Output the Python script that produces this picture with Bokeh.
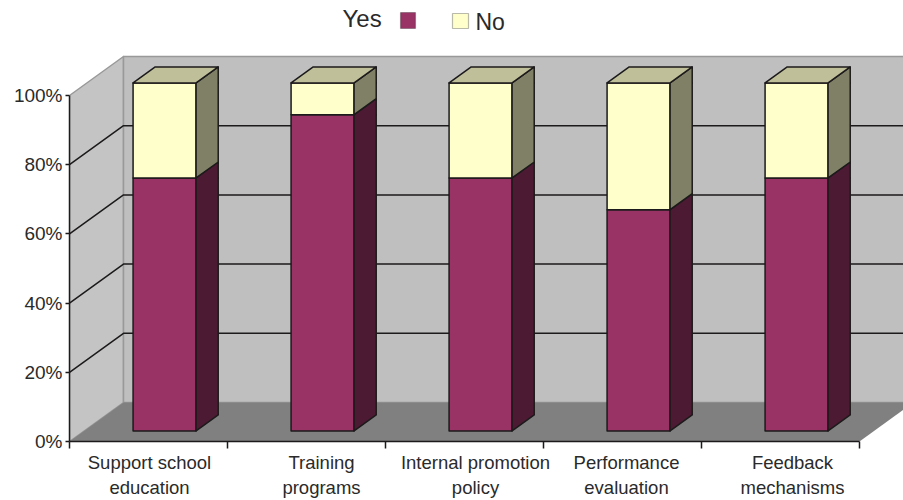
from bokeh.plotting import figure
from bokeh.models import FixedTicker, Label, BoxAnnotation
from bokeh.embed import file_html
from bokeh.resources import INLINE

categories = ["Support school\neducation", "Training\nprograms", "Internal promotion\npolicy",
              "Performance\nevaluation", "Feedback\nmechanisms"]
yes_pct = [72.7, 90.9, 72.7, 63.6, 72.7]
no_pct = [27.3, 9.1, 27.3, 36.4, 27.3]
y_ticks = [0, 20, 40, 60, 80, 100]

# layout: reference pixels of the front plane
PX_X0, PX_PER_CAT = 69, 158
PX_Y0, PX_PER_PCT = 441, 3.46
DEPTH_X, DEPTH_Y = 54 / PX_PER_CAT, 39 / PX_PER_PCT
BAR_W = 63 / PX_PER_CAT
BAR_SHIFT = 1.5 / PX_PER_CAT
BAR_STRETCH = 348 / 346  # the bars stand slightly nearer the viewer than the axis plane
D0, D1 = 0.27, 0.68
LABEL_CENTERS = [149, 321, 475, 626, 792]
FONT = "Liberation Sans"
INK = "#1c1a1a"

def ux(px): return (px - PX_X0) / PX_PER_CAT
def uy(py): return (PX_Y0 - py) / PX_PER_PCT
def pj(x, y, d): return x + d * DEPTH_X, y + d * DEPTH_Y

p = figure(width=903, height=500, output_backend="svg", toolbar_location=None,
           x_range=(0, ux(903)), y_range=(0, uy(0)),
           min_border_left=PX_X0, min_border_right=0, min_border_top=0, min_border_bottom=500 - PX_Y0,
           outline_line_color=None, background_fill_color="white", border_fill_color="white")
p.grid.visible = False

# walls and floor
n = len(categories)
def poly(pts, fill, line=None, lw=1.5):
    xs = [a for a, _ in pts]
    ys = [b for _, b in pts]
    p.patch(xs, ys, fill_color=fill, line_color=line, line_width=lw, line_join="round")

poly([pj(0, 0, 0), pj(0, 0, 1), pj(0, 100, 1), pj(0, 100, 0)], "#c4c4c4", "#999999", 1.5)
poly([pj(0, 0, 1), pj(n, 0, 1), pj(n, 100, 1), pj(0, 100, 1)], "#bfbfbf", "#999999", 1.5)
poly([pj(0, 0, 0), pj(n, 0, 0), pj(n, 0, 1), pj(0, 0, 1)], "#808080")

for t in y_ticks[1:-1]:
    a, b, c = pj(0, t, 0), pj(0, t, 1), pj(n, t, 1)
    p.line([a[0], b[0], c[0]], [a[1], b[1], c[1]], line_color=INK, line_width=1.5)

# bars
for i in range(n):
    x0 = i + 0.5 - BAR_W / 2 + BAR_SHIFT
    x1 = x0 + BAR_W
    base = 0
    for val, front, side, top in ((yes_pct[i], "#993366", "#4d1a33", None),
                                  (no_pct[i], "#ffffcc", "#808066", "#bfbf99")):
        lo, hi = base * BAR_STRETCH, (base + val) * BAR_STRETCH
        poly([pj(x0, lo, D0), pj(x1, lo, D0), pj(x1, hi, D0), pj(x0, hi, D0)], front, INK)
        poly([pj(x1, lo, D0), pj(x1, lo, D1), pj(x1, hi, D1), pj(x1, hi, D0)], side, INK)
        if top:
            poly([pj(x0, hi, D0), pj(x1, hi, D0), pj(x1, hi, D1), pj(x0, hi, D1)], top, INK)
        base += val

# axes
ya = p.yaxis[0]
ya.ticker = FixedTicker(ticks=y_ticks)
ya.major_label_overrides = {t: f"{t}%" for t in y_ticks}
ya.bounds = (0, 100)
ya.axis_line_color = INK
ya.axis_line_width = 1.5
ya.major_tick_line_color = INK
ya.major_tick_line_width = 1.5
ya.major_tick_in = 0
ya.major_tick_out = 4
ya.minor_tick_line_color = None
ya.major_label_standoff = 3
ya.major_label_text_font = FONT
ya.major_label_text_font_size = "19px"
ya.major_label_text_color = "#2a2a2a"

label_ticks = [ux(v) for v in LABEL_CENTERS]
xa = p.xaxis[0]
xa.ticker = FixedTicker(ticks=label_ticks, minor_ticks=list(range(n + 1)))
xa.major_label_overrides = dict(zip(label_ticks, categories))
xa.bounds = (0, n)
xa.axis_line_color = INK
xa.axis_line_width = 1.5
xa.major_tick_line_color = None
xa.major_tick_in = 0
xa.major_tick_out = 0
xa.minor_tick_line_color = INK
xa.minor_tick_line_width = 1.5
xa.minor_tick_in = 0
xa.minor_tick_out = 7
xa.major_label_standoff = 3
xa.major_label_text_font = FONT
xa.major_label_text_font_size = "18.5px"
xa.major_label_text_color = "#2a2a2a"

# legend
for txt, px, py, size in (("Yes", 342, 4, "24px"), ("No", 475, 8, "23px")):
    p.add_layout(Label(x=ux(px), y=uy(py), text=txt, text_font=FONT, text_font_size=size,
                       text_color="#2a2a2a", text_baseline="top"))
for left, right, top, bottom, fill in ((400, 415, 12, 28, "#993366"), (452, 468, 13, 28, "#ffffcc")):
    p.add_layout(BoxAnnotation(left=ux(left), right=ux(right), top=uy(top), bottom=uy(bottom),
                               fill_color=fill, fill_alpha=1, line_color=INK, line_width=1.2))

open("out.html", "w").write(file_html(p, INLINE))
